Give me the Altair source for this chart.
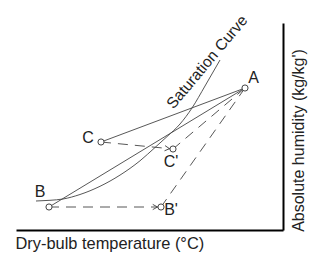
import altair as alt
import pandas as pd

W, H = 267, 207
FONT = "Liberation Sans"

# State points (data units)
pt_name = ["A", "B", "B'", "C", "C'"]
pt_x = [229, 33, 145, 85, 157]
pt_y = [142, 23, 23, 88, 81]

# Point labels
lab_text = ["A", "B", "B'", "C", "C'"]
lab_x = [237.5, 24, 155, 72, 155]
lab_y = [152, 38.5, 20, 92, 68]

# Saturation curve
sat_x = [20, 34, 47, 64, 84, 104, 124, 139, 151, 164, 176, 189, 204]
sat_y = [29, 29.7, 31, 35.5, 43.7, 54.9, 69.2, 82.5, 93.4, 106, 122, 144, 170]

# Segments
solid_from = ["C", "B"]
solid_to = ["A", "A"]
dash_from = ["C", "B", "A", "A"]
dash_to = ["C'", "B'", "C'", "B'"]

# Arrow heads
arrow_x = [141.5, 153.5]
arrow_y = [23, 81.3]
arrow_angle = [0, 6]

sat_label = "Saturation Curve"
sat_label_x = [191]
sat_label_y = [168]

pos = dict(zip(pt_name, zip(pt_x, pt_y)))


def seg_df(froms, tos):
    rows = []
    for i, (a, b) in enumerate(zip(froms, tos)):
        rows.append({"seg": i, "o": 0, "x": pos[a][0], "y": pos[a][1]})
        rows.append({"seg": i, "o": 1, "x": pos[b][0], "y": pos[b][1]})
    return pd.DataFrame(rows)


xs = alt.Scale(domain=[0, W], nice=False, zero=False)
ys = alt.Scale(domain=[0, H], nice=False, zero=False)

x_axis = alt.Axis(
    title="Dry-bulb temperature (°C)", ticks=False, labels=False, grid=False,
    domainColor="black", domainWidth=2, titleFont=FONT, titleFontSize=16.4,
    titleFontWeight="normal", titleColor="#222", titleAlign="left",
    titleAnchor="start", titleX=-1, titlePadding=5, titleBaseline="top",
)
y_axis = alt.Axis(
    orient="right", title="Absolute humidity (kg/kg')", ticks=False,
    labels=False, grid=False, domainColor="black", domainWidth=2,
    titleFont=FONT, titleFontSize=16, titleFontWeight="normal",
    titleColor="#222", titleAngle=270, titleX=15, titleY=117,
    titleAlign="center", titleBaseline="middle",
)


def X(field="x"):
    return alt.X(f"{field}:Q", scale=xs, axis=x_axis)


def Y(field="y"):
    return alt.Y(f"{field}:Q", scale=ys, axis=y_axis)


sat_df = pd.DataFrame({"x": sat_x, "y": sat_y, "o": range(len(sat_x))})
sat = alt.Chart(sat_df).mark_line(
    color="#444", strokeWidth=0.9, interpolate="monotone"
).encode(x=X(), y=Y(), order="o:Q")

solid = alt.Chart(seg_df(solid_from, solid_to)).mark_line(
    color="#444", strokeWidth=0.9
).encode(x=X(), y=Y(), detail="seg:N", order="o:Q")

dashed = alt.Chart(seg_df(dash_from, dash_to)).mark_line(
    color="#444", strokeWidth=0.9, strokeDash=[10, 7]
).encode(x=X(), y=Y(), detail="seg:N", order="o:Q")

arrows = alt.Chart(
    pd.DataFrame({"x": arrow_x, "y": arrow_y, "a": arrow_angle})
).mark_point(
    shape="M-1,-0.55L0,0L-1,0.55", filled=False, size=90,
    stroke="#444", strokeWidth=0.9, opacity=1,
).encode(x=X(), y=Y(), angle=alt.Angle("a:Q", scale=None))

points = alt.Chart(pd.DataFrame({"x": pt_x, "y": pt_y})).mark_point(
    shape="circle", size=38, filled=True, fill="white", stroke="#444",
    strokeWidth=1, opacity=1,
).encode(x=X(), y=Y())

labels = alt.Chart(
    pd.DataFrame({"x": lab_x, "y": lab_y, "t": lab_text})
).mark_text(
    font=FONT, fontSize=16, color="#222", align="center", baseline="middle"
).encode(x=X(), y=Y(), text="t:N")

sat_text = alt.Chart(
    pd.DataFrame({"x": sat_label_x, "y": sat_label_y, "t": [sat_label]})
).mark_text(
    font=FONT, fontSize=15.5, color="#222", align="center",
    baseline="middle", angle=310,
).encode(x=X(), y=Y(), text="t:N")

chart = alt.layer(
    sat, solid, dashed, arrows, points, labels, sat_text
).properties(
    width=W, height=H,
    autosize=alt.AutoSizeParams(type="none"),
    padding={"left": 8, "top": 15, "right": 25, "bottom": 22},
    background="white",
).configure_view(strokeWidth=0, stroke="transparent")

chart.save("out.html", embed_options={"renderer": "svg", "actions": False})
